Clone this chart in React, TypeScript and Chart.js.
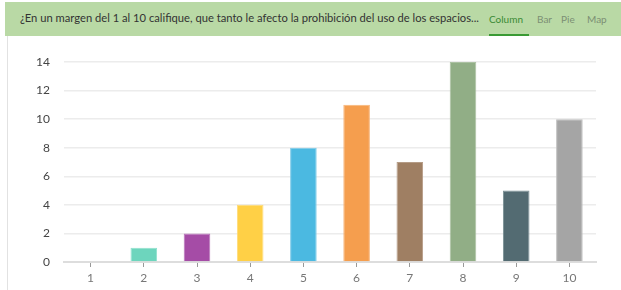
import React, { useEffect, useRef } from "react";
import { Chart, registerables } from "chart.js";

Chart.register(...registerables);

const categories = ["1", "2", "3", "4", "5", "6", "7", "8", "9", "10"];
const counts = [0, 1, 2, 4, 8, 11, 7, 14, 5, 10];
const barColors = ["#6dd5bd", "#6dd5bd", "#a54ca6", "#ffd046", "#4bb9e1", "#f59e4e", "#9f7f63", "#91ae86", "#536b72", "#a5a5a5"];
const barBorders = ["#8fe0cd", "#8fe0cd", "#b875b9", "#ffdc78", "#7dcbe8", "#f7b57a", "#b59c86", "#abc1a2", "#7a8f94", "#bdbdbd"];
const yTicks = [0, 2, 4, 6, 8, 10, 12, 14];
const title = "¿En un margen del 1 al 10 califique, que tanto le afecto la prohibición del uso de los espacios...";
const tabs = ["Column", "Bar", "Pie", "Map"];

export default function App() {
  const ref = useRef<HTMLCanvasElement>(null);
  useEffect(() => {
    document.body.style.margin = "0";
    const ctx = ref.current!;
    const chart = new Chart(ctx, {
      type: "bar",
      data: {
        labels: categories,
        datasets: [
          {
            data: counts,
            backgroundColor: barColors,
            borderColor: barBorders,
            borderWidth: 1,
            barPercentage: 0.5,
            categoryPercentage: 1,
          },
        ],
      },
      options: {
        animation: false,
        responsive: false,
        maintainAspectRatio: false,
        layout: { padding: { top: 22, right: 25, left: 0, bottom: 0 } },
        plugins: { legend: { display: false }, tooltip: { enabled: false } },
        scales: {
          x: {
            grid: {
              display: true,
              drawOnChartArea: false,
              drawTicks: true,
              tickLength: 5,
              offset: false,
              color: "#999",
            },
            border: { display: true, color: "#dddddd", width: 2 },
            ticks: { color: "#777", font: { family: "Lato", size: 12 }, padding: 4 },
            afterFit: (s: any) => {
              s.height = 28;
            },
          },
          y: {
            min: 0,
            max: 14,
            afterBuildTicks: (s: any) => {
              s.ticks = yTicks.map((v) => ({ value: v }));
            },
            grid: { color: "#ececec", lineWidth: 1.5, drawTicks: false },
            border: { display: false },
            ticks: { color: "#444", font: { family: "Lato", size: 12 }, padding: 14 },
            afterFit: (s: any) => {
              s.width = 64;
            },
          },
        },
      },
    });
    return () => chart.destroy();
  }, []);

  const lefts = [489, 537, 561, 587];
  return (
    <div style={{ position: "absolute", left: 0, top: 0, width: 621, height: 290, background: "#fff", overflow: "hidden", fontFamily: "Lato, 'Open Sans', sans-serif" }}>
      <div style={{ position: "absolute", left: 7, top: 36, width: 1, height: 254, background: "#e2e2e2" }} />
      <div style={{ position: "absolute", left: 5, top: 2, width: 616, height: 34, background: "#b9d9a5" }} />
      <div style={{ position: "absolute", left: 20, top: 11, fontSize: 11.2, color: "#333", whiteSpace: "nowrap" }}>{title}</div>
      {tabs.map((t, i) => (
        <div key={t} style={{ position: "absolute", left: lefts[i], top: 13, fontSize: 10, color: i === 0 ? "#3a8a34" : "#7c8f74", whiteSpace: "nowrap" }}>
          {t}
        </div>
      ))}
      <div style={{ position: "absolute", left: 489, top: 34, width: 40, height: 2, background: "#3a9a34" }} />
      <canvas ref={ref} width={621} height={250} style={{ position: "absolute", left: 0, top: 40, width: 621, height: 250 }} />
    </div>
  );
}
